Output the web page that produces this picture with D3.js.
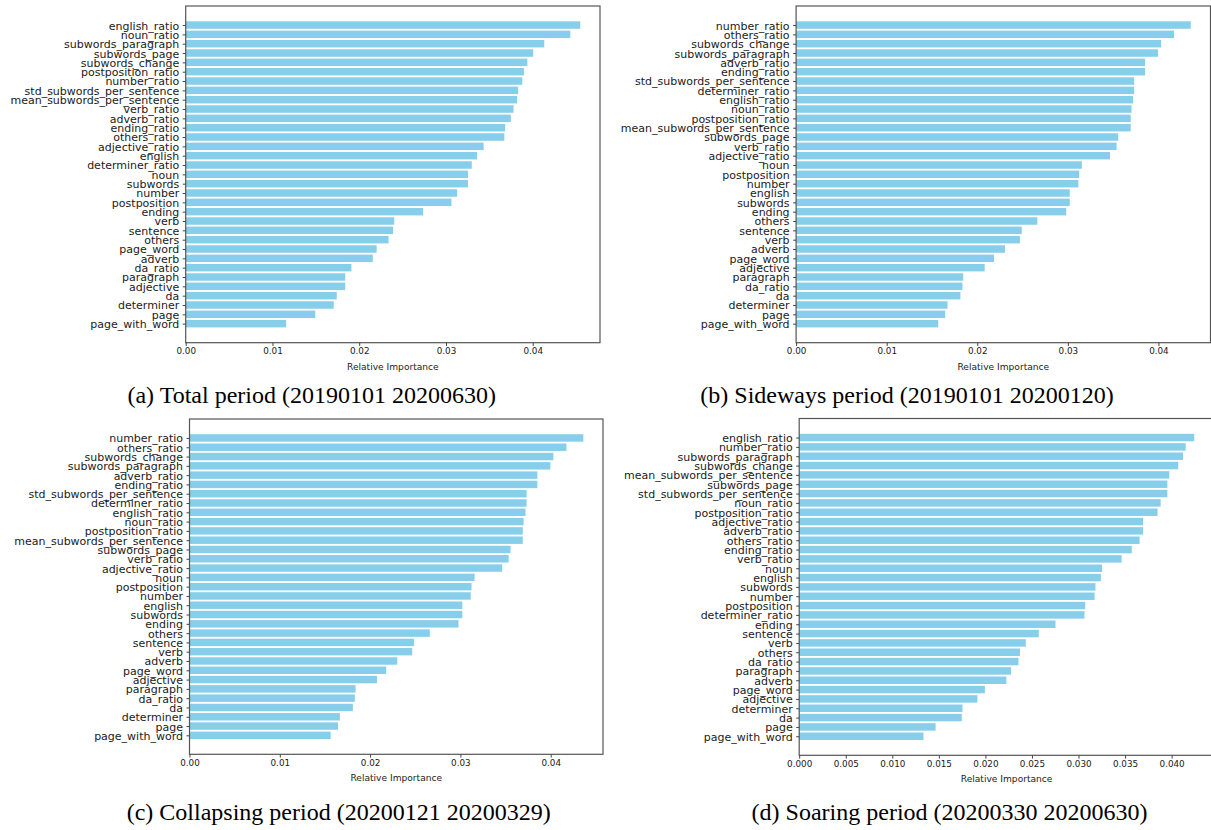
<!DOCTYPE html>
<html lang="en">
  <head>
    <meta charset="utf-8"/>
    <title>Relative Importance by period</title>
    <script src="https://d3js.org/d3.v7.min.js"></script>
    <style>
      body { margin: 0; background: #fff; }
      svg { display: block; }
      .tick line { stroke: #444; }
      .tick text { fill: #1a1a1a; }
    </style>
  </head>
  <body>
    <svg id="chart" width="1211" height="830"></svg>
  <script>
  // ---- data (top to bottom, as printed) ----
  const totalCats = ["english_ratio","noun_ratio","subwords_paragraph","subwords_page","subwords_change",
    "postposition_ratio","number_ratio","std_subwords_per_sentence","mean_subwords_per_sentence","verb_ratio",
    "adverb_ratio","ending_ratio","others_ratio","adjective_ratio","english","determiner_ratio","noun",
    "subwords","number","postposition","ending","verb","sentence","others","page_word","adverb","da_ratio",
    "paragraph","adjective","da","determiner","page","page_with_word"];
  const totalVals = [0.04548,0.04433,0.04133,0.04005,0.03938,0.03898,0.03880,0.03832,0.03819,0.03779,
    0.03748,0.03682,0.03673,0.03434,0.03359,0.03297,0.03253,0.03253,0.03129,0.03063,0.02736,0.02404,
    0.02391,0.02338,0.02201,0.02157,0.01910,0.01839,0.01839,0.01741,0.01706,0.01494,0.01158];

  const sidewaysCats = ["number_ratio","others_ratio","subwords_change","subwords_paragraph","adverb_ratio",
    "ending_ratio","std_subwords_per_sentence","determiner_ratio","english_ratio","noun_ratio",
    "postposition_ratio","mean_subwords_per_sentence","subwords_page","verb_ratio","adjective_ratio","noun",
    "postposition","number","english","subwords","ending","others","sentence","verb","adverb","page_word",
    "adjective","paragraph","da_ratio","da","determiner","page","page_with_word"];
  const sidewaysVals = [0.04357,0.04172,0.04030,0.03995,0.03853,0.03853,0.03732,0.03732,0.03720,0.03703,
    0.03694,0.03694,0.03556,0.03538,0.03465,0.03155,0.03125,0.03116,0.03021,0.03021,0.02982,0.02663,
    0.02491,0.02470,0.02306,0.02185,0.02082,0.01845,0.01836,0.01814,0.01672,0.01646,0.01569];

  const collapsingCats = ["number_ratio","others_ratio","subwords_change","subwords_paragraph","adverb_ratio",
    "ending_ratio","std_subwords_per_sentence","determiner_ratio","english_ratio","noun_ratio",
    "postposition_ratio","mean_subwords_per_sentence","subwords_page","verb_ratio","adjective_ratio","noun",
    "postposition","number","english","subwords","ending","others","sentence","verb","adverb","page_word",
    "adjective","paragraph","da_ratio","da","determiner","page","page_with_word"];
  const collapsingVals = [0.04361,0.04174,0.04030,0.03996,0.03852,0.03852,0.03733,0.03733,0.03721,0.03700,
    0.03691,0.03691,0.03555,0.03534,0.03462,0.03157,0.03123,0.03114,0.03021,0.03021,0.02979,0.02661,
    0.02487,0.02466,0.02301,0.02178,0.02076,0.01839,0.01831,0.01809,0.01665,0.01644,0.01563];

  const soaringCats = ["english_ratio","number_ratio","subwords_paragraph","subwords_change",
    "mean_subwords_per_sentence","subwords_page","std_subwords_per_sentence","noun_ratio","postposition_ratio",
    "adjective_ratio","adverb_ratio","others_ratio","ending_ratio","verb_ratio","noun","english","subwords",
    "number","postposition","determiner_ratio","ending","sentence","verb","others","da_ratio","paragraph",
    "adverb","page_word","adjective","determiner","da","page","page_with_word"];
  const soaringVals = [0.04243,0.04151,0.04122,0.04071,0.03975,0.03954,0.03954,0.03882,0.03849,0.03694,
    0.03694,0.03656,0.03572,0.03463,0.03253,0.03240,0.03182,0.03173,0.03072,0.03064,0.02753,0.02573,
    0.02434,0.02371,0.02355,0.02275,0.02225,0.01994,0.01914,0.01754,0.01746,0.01465,0.01335];

  const ticksWide = [0, 0.01, 0.02, 0.03, 0.04];
  const ticksFine = [0, 0.005, 0.01, 0.015, 0.02, 0.025, 0.03, 0.035, 0.04];

  const captions = ["(a) Total period (20190101 20200630)", "(b) Sideways period (20190101 20200120)",
    "(c) Collapsing period (20200121 20200329)", "(d) Soaring period (20200330 20200630)"];

  // ---- layout ----
  const panels = [
    {cats: totalCats, vals: totalVals, left: 185.7, right: 600, top: 6, bottom: 342.7,
     ticks: ticksWide, fmt: ".2f", cap: captions[0], capX: 311.7, capY: 403},
    {cats: sidewaysCats, vals: sidewaysVals, left: 796.1, right: 1210.5, top: 6, bottom: 342.7,
     ticks: ticksWide, fmt: ".2f", cap: captions[1], capX: 907, capY: 403},
    {cats: collapsingCats, vals: collapsingVals, left: 189.5, right: 603, top: 419, bottom: 754.3,
     ticks: ticksWide, fmt: ".2f", cap: captions[2], capX: 338.7, capY: 820},
    {cats: soaringCats, vals: soaringVals, left: 799.2, right: 1214, top: 418.5, bottom: 755.3,
     ticks: ticksFine, fmt: ".3f", cap: captions[3], capX: 949.6, capY: 820}
  ];

  const svg = d3.select("#chart");
  svg.append("rect").attr("width", 1211).attr("height", 830).attr("fill", "#fff");

  panels.forEach(function(p) {
    const n = p.cats.length;
    const g = svg.append("g");

    // matplotlib-like limits: 5% margin on both axes
    let x = d3.scaleLinear()
      .domain([0, d3.max(p.vals) * 1.05])
      .range([p.left, p.right]);
    const pad = 0.05 * (n - 1 + 0.8);
    let y = d3.scaleLinear()
      .domain([-0.4 - pad, n - 1 + 0.4 + pad])
      .range([p.bottom, p.top]);

    // bars (index 0 = bottom of axes)
    g.selectAll("rect.bar")
      .data(p.vals)
      .enter()
      .append("rect")
        .attr("class", "bar")
        .attr("x", x(0))
        .attr("y", function(d, k){ return y(n - 1 - k + 0.4); })
        .attr("width", function(d){ return x(d) - x(0); })
        .attr("height", function(d, k){ return y(n - 1 - k - 0.4) - y(n - 1 - k + 0.4); })
        .attr("fill", "#87CEEB");

    // frame
    g.append("rect")
      .attr("x", p.left).attr("y", p.top)
      .attr("width", p.right - p.left).attr("height", p.bottom - p.top)
      .attr("fill", "none").attr("stroke", "#555").attr("stroke-width", 1.2);

    // x axis
    let xAxis = d3.axisBottom(x)
      .tickValues(p.ticks)
      .tickFormat(d3.format(p.fmt))
      .tickSize(3.3)
      .tickPadding(2);
    g.append("g")
      .attr("transform", "translate(0," + p.bottom + ")")
      .call(xAxis)
      .call(function(a){ a.select(".domain").remove(); })
      .selectAll("text")
        .attr("font-family", "DejaVu Sans")
        .attr("font-size", "8.8px");

    // y axis (category ticks)
    let yAxis = d3.axisLeft(y)
      .tickValues(d3.range(n))
      .tickFormat(function(i){ return p.cats[n - 1 - i]; })
      .tickSize(3)
      .tickPadding(3.5);
    g.append("g")
      .attr("transform", "translate(" + p.left + ",0)")
      .call(yAxis)
      .call(function(a){ a.select(".domain").remove(); })
      .selectAll("text")
        .attr("font-family", "DejaVu Sans")
        .attr("font-size", "11px")
        .attr("dy", "0.36em");

    // x label
    g.append("text")
      .attr("x", (p.left + p.right) / 2)
      .attr("y", p.bottom + 27)
      .attr("text-anchor", "middle")
      .attr("font-family", "DejaVu Sans")
      .attr("font-size", "9.1px")
      .attr("fill", "#222")
      .text("Relative Importance");

    // caption
    svg.append("text")
      .attr("x", p.capX)
      .attr("y", p.capY)
      .attr("text-anchor", "middle")
      .attr("font-family", "Liberation Serif, Times New Roman, serif")
      .attr("font-size", "24px")
      .attr("fill", "#000")
      .text(p.cap);
  });
  </script>
  </body>
</html>
